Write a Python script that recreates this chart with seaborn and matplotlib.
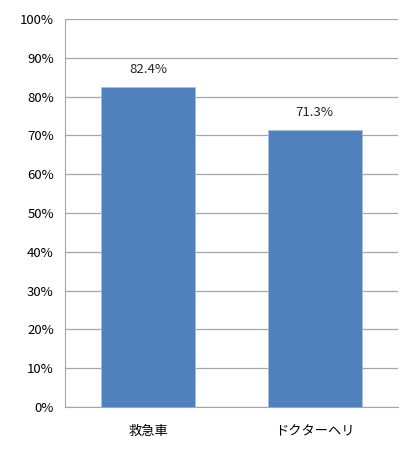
import matplotlib
matplotlib.use("Agg")
import matplotlib.pyplot as plt
import seaborn as sns
import pandas as pd
from matplotlib.ticker import FuncFormatter

categories = ["救急車", "ドクターヘリ"]
values = [82.4, 71.3]
labels = ["82.4%", "71.3%"]

sns.set_style("white")
plt.rcParams['font.family'] = ['Noto Sans CJK JP', 'DejaVu Sans']

df = pd.DataFrame({"cat": categories, "val": values})

fig = plt.figure(figsize=(4.18, 4.58), dpi=100)
ax = fig.add_axes([65/418, 51/458, 333/418, 388/458])
sns.barplot(data=df, x="cat", y="val", color="#4F81BD", width=0.565,
            saturation=1, ax=ax, zorder=3)
for p in ax.patches:
    p.set_edgecolor("#A7BFDE")
    p.set_linewidth(0.6)

ax.set_ylim(0, 100)
ax.set_xlim(-0.5, 1.5)
ax.set_yticks(range(0, 101, 10))
ax.yaxis.set_major_formatter(FuncFormatter(lambda v, _: f"{int(v)}%"))
ax.grid(axis="y", color="#A6A6A6", linewidth=0.9, zorder=0)
ax.set_axisbelow(True)
for s in ["top", "right"]:
    ax.spines[s].set_visible(False)
ax.spines["left"].set_color("#A6A6A6")
ax.spines["bottom"].set_color("#A6A6A6")
ax.tick_params(axis="both", length=0, labelsize=9.5, colors="black")
ax.tick_params(axis="y", pad=8)
ax.tick_params(axis="x", pad=13)
ax.set_xlabel("")
ax.set_ylabel("")

for i, (v, t) in enumerate(zip(values, labels)):
    ax.text(i, v + 2.8, t, ha="center", va="bottom", fontsize=9.5)

fig.savefig("out.png", dpi=100)
